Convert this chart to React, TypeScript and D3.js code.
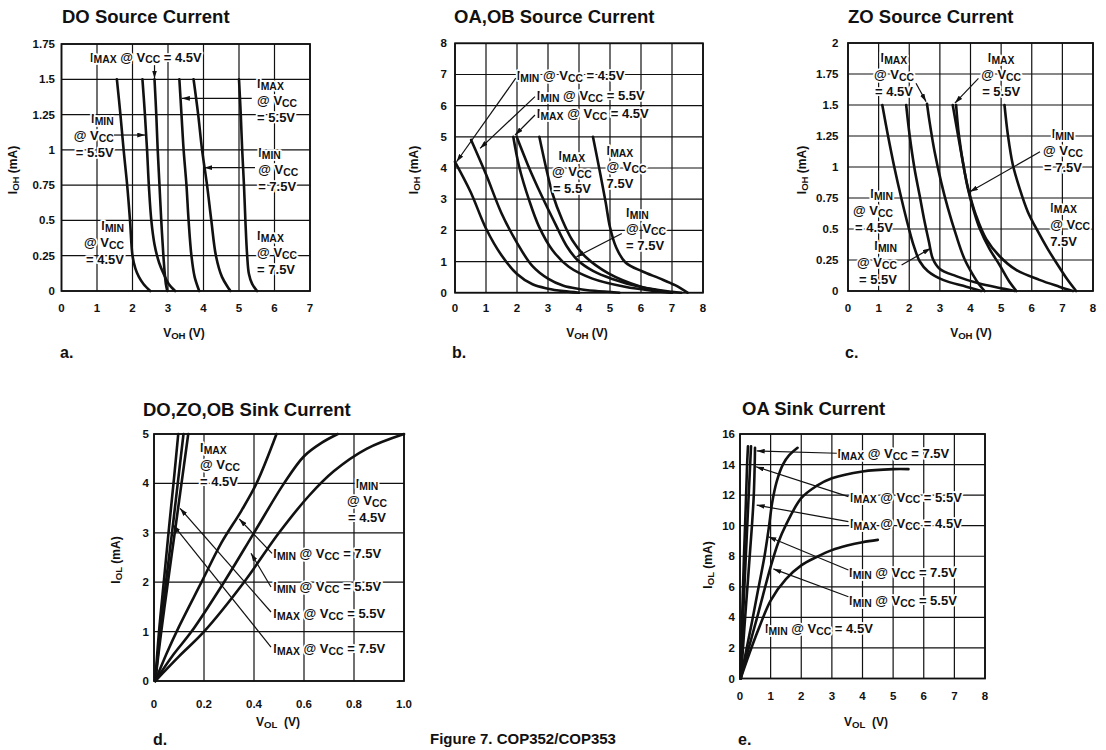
import React from "react";
import * as d3 from "d3";

type Pt = [number, number];

// ---------- a. DO Source Current ----------
const doVohTicks = [0, 1, 2, 3, 4, 5, 6, 7];
const doIohTicks = [0, 0.25, 0.5, 0.75, 1, 1.25, 1.5, 1.75];
const doIminVcc45: Pt[] = [[1.56, 1.5], [1.66, 1.25], [1.75, 1.0], [1.85, 0.75], [1.93, 0.5], [2.0, 0.25], [2.08, 0.16], [2.18, 0.1], [2.31, 0.05], [2.5, 0]];
const doIminVcc55: Pt[] = [[2.28, 1.5], [2.35, 1.25], [2.41, 1.0], [2.46, 0.75], [2.53, 0.5], [2.62, 0.33], [2.75, 0.2], [2.88, 0.12], [3.02, 0.05], [3.2, 0]];
const doImaxVcc45: Pt[] = [[2.62, 1.5], [2.67, 1.25], [2.71, 1.0], [2.76, 0.75], [2.81, 0.5], [2.87, 0.25], [2.91, 0.12], [2.94, 0.05], [2.98, 0]];
const doImaxVcc55: Pt[] = [[3.32, 1.5], [3.38, 1.25], [3.44, 1.0], [3.52, 0.75], [3.58, 0.5], [3.66, 0.25], [3.75, 0.1], [3.88, 0]];
const doIminVcc75: Pt[] = [[3.72, 1.5], [3.85, 1.25], [3.96, 1.0], [4.1, 0.75], [4.22, 0.5], [4.35, 0.25], [4.52, 0.1], [4.76, 0]];
const doImaxVcc75: Pt[] = [[5.0, 1.5], [5.05, 1.25], [5.09, 1.0], [5.14, 0.75], [5.18, 0.5], [5.23, 0.25], [5.28, 0.12], [5.37, 0.05], [5.51, 0]];

// ---------- b. OA,OB Source Current ----------
const oaVohTicks = [0, 1, 2, 3, 4, 5, 6, 7, 8];
const oaIohTicks = [0, 1, 2, 3, 4, 5, 6, 7, 8];
const oaIminVcc45: Pt[] = [[0, 4.2], [0.5, 3.24], [1.0, 2.06], [1.5, 1.2], [2.0, 0.6], [2.5, 0.27], [3.0, 0.13], [3.5, 0.05], [4.0, 0]];
const oaIminVcc55: Pt[] = [[0.52, 4.9], [1.0, 3.8], [1.5, 2.55], [2.0, 1.6], [2.5, 0.85], [3.0, 0.45], [3.5, 0.22], [4.0, 0.12], [4.5, 0.06], [5.3, 0]];
const oaImaxVcc45: Pt[] = [[1.88, 5.0], [2.07, 4.04], [2.39, 2.97], [2.71, 2.12], [3.14, 1.37], [3.67, 0.83], [4.41, 0.46], [5.48, 0.19], [6.5, 0.05], [7.0, 0]];
const oaIminVcc75: Pt[] = [[1.99, 5.0], [2.35, 4.1], [2.8, 3.1], [3.24, 2.2], [3.6, 1.5], [3.95, 1.05], [4.45, 0.7], [5.05, 0.45], [6.0, 0.18], [7.0, 0.03], [7.3, 0]];
const oaImaxVcc55: Pt[] = [[2.72, 5.0], [2.93, 4.04], [3.14, 3.19], [3.46, 2.33], [3.78, 1.69], [4.2, 1.16], [4.95, 0.62], [6.0, 0.19], [6.5, 0.08], [7.0, 0]];
const oaImaxVcc75: Pt[] = [[4.45, 5.0], [4.65, 4.0], [4.86, 2.9], [5.0, 2.1], [5.2, 1.45], [5.5, 0.97], [6.05, 0.68], [6.6, 0.46], [7.1, 0.24], [7.5, 0]];

// ---------- c. ZO Source Current ----------
const zoVohTicks = [0, 1, 2, 3, 4, 5, 6, 7, 8];
const zoIohTicks = [0, 0.25, 0.5, 0.75, 1, 1.25, 1.5, 1.75, 2];
const zoIminVcc45: Pt[] = [[1.12, 1.5], [1.3, 1.26], [1.52, 0.99], [1.74, 0.75], [1.96, 0.53], [2.14, 0.37], [2.34, 0.24], [2.61, 0.16], [3.1, 0.09], [3.86, 0.035], [4.35, 0]];
const zoIminVcc55: Pt[] = [[1.9, 1.5], [2.01, 1.26], [2.17, 0.99], [2.34, 0.77], [2.5, 0.56], [2.64, 0.4], [2.77, 0.26], [2.99, 0.18], [3.53, 0.12], [4.29, 0.06], [4.95, 0.025], [5.45, 0]];
const zoImaxVcc45: Pt[] = [[2.58, 1.51], [2.66, 1.37], [2.83, 1.12], [3.04, 0.88], [3.26, 0.67], [3.53, 0.45], [3.8, 0.26], [4.08, 0.13], [4.29, 0.05], [4.46, 0]];
const zoImaxVcc55: Pt[] = [[3.42, 1.5], [3.59, 1.26], [3.75, 1.04], [3.91, 0.83], [4.08, 0.67], [4.29, 0.51], [4.62, 0.34], [4.95, 0.21], [5.27, 0.075], [5.5, 0]];
const zoIminVcc75: Pt[] = [[3.53, 1.5], [3.62, 1.26], [3.8, 0.97], [3.95, 0.8], [4.18, 0.61], [4.51, 0.42], [4.95, 0.28], [5.49, 0.17], [6.25, 0.09], [6.9, 0.035], [7.34, 0]];
const zoImaxVcc75: Pt[] = [[5.11, 1.5], [5.22, 1.26], [5.38, 1.02], [5.6, 0.83], [5.87, 0.64], [6.2, 0.48], [6.52, 0.34], [6.85, 0.21], [7.17, 0.09], [7.45, 0]];

// ---------- d. DO,ZO,OB Sink Current ----------
const sinkVolTicks = [0, 0.2, 0.4, 0.6, 0.8, 1.0];
const sinkIolTicks = [0, 1, 2, 3, 4, 5];
const sinkImaxVcc75: Pt[] = [[0.005, 0], [0.02, 1.0], [0.04, 2.05], [0.06, 3.1], [0.08, 4.1], [0.097, 5]];
const sinkImaxVcc55: Pt[] = [[0.005, 0], [0.025, 1.0], [0.049, 2.05], [0.072, 3.0], [0.095, 4.0], [0.118, 5]];
const sinkImaxVcc45: Pt[] = [[0.005, 0], [0.029, 1.0], [0.057, 2.05], [0.083, 3.0], [0.11, 4.0], [0.137, 5]];
const sinkIminVcc75: Pt[] = [[0.005, 0], [0.05, 0.55], [0.1, 1.1], [0.19, 2.0], [0.27, 2.8], [0.35, 3.45], [0.41, 4.0], [0.49, 5.0]];
const sinkIminVcc55: Pt[] = [[0.005, 0], [0.08, 0.55], [0.15, 1.0], [0.28, 2.0], [0.4, 3.0], [0.52, 4.0], [0.6, 4.55], [0.67, 4.82], [0.735, 5.0]];
const sinkIminVcc45: Pt[] = [[0.005, 0], [0.1, 0.5], [0.2, 1.0], [0.36, 2.0], [0.5, 3.0], [0.62, 3.75], [0.72, 4.25], [0.85, 4.7], [1.0, 5.0]];

// ---------- e. OA Sink Current ----------
const oaSinkVolTicks = [0, 1, 2, 3, 4, 5, 6, 7, 8];
const oaSinkIolTicks = [0, 2, 4, 6, 8, 10, 12, 14, 16];
const oaSinkImaxVcc75: Pt[] = [[0.02, 0], [0.07, 4], [0.13, 8], [0.19, 11.4], [0.23, 13.9], [0.26, 15.2]];
const oaSinkImaxVcc55: Pt[] = [[0.02, 0], [0.1, 4], [0.19, 8], [0.26, 11], [0.32, 13.5], [0.36, 15.2]];
const oaSinkImaxVcc45: Pt[] = [[0.03, 0], [0.15, 3.5], [0.28, 7], [0.39, 10], [0.45, 12], [0.48, 14], [0.49, 15.1]];
const oaSinkIminVcc75: Pt[] = [[0.02, 0], [0.2, 1.8], [0.4, 3.8], [0.6, 5.9], [0.8, 8.0], [0.95, 10], [1.05, 11.5], [1.2, 12.9], [1.4, 14.0], [1.6, 14.6], [1.88, 15.1]];
const oaSinkIminVcc55: Pt[] = [[0.02, 0], [0.3, 2.1], [0.6, 4.3], [1.0, 7.3], [1.25, 8.9], [1.5, 10.05], [2.0, 11.8], [2.5, 12.6], [3.0, 13.1], [4.0, 13.55], [5.0, 13.7], [5.5, 13.7]];
const oaSinkIminVcc45: Pt[] = [[0.02, 0], [0.3, 1.6], [0.6, 3.2], [1.0, 5.1], [1.5, 6.5], [2.0, 7.4], [2.5, 7.95], [3.0, 8.4], [3.5, 8.7], [4.0, 8.92], [4.5, 9.07]];

// ---------- layout ----------
type Anchor = "start" | "middle" | "end";
interface Label { lines: string[]; at: Pt; anchor: Anchor; }
interface Leader { from: Pt; to: Pt; }
interface PanelDef {
  title: string; titleX: number; titleY: number;
  letter: string; letterX: number; letterY: number;
  left: number; right: number; top: number; bottom: number;
  xDomain: Pt; yDomain: Pt; xTicks: number[]; yTicks: number[];
  xFmt: (v: number) => string; yFmt: (v: number) => string;
  yTickGap: number; xTickBase: number;
  xTitle: string; xTitleX: number; xTitleY: number;
  yTitle: string; yTitleX: number; yTitleY: number;
  curves: Pt[][]; labels: Label[]; leaders: Leader[]; lineGap: number;
}

const plain = (v: number) => String(v);
const oneDec = (v: number) => (v === 0 ? "0" : d3.format(".1f")(v));

const panels: PanelDef[] = [
  {
    title: "DO Source Current", titleX: 62, titleY: 23, letter: "a.", letterX: 60, letterY: 358,
    left: 61.5, right: 310, top: 44, bottom: 291,
    xDomain: [0, 7], yDomain: [0, 1.75], xTicks: doVohTicks, yTicks: doIohTicks, xFmt: plain, yFmt: plain,
    yTickGap: 6.5, xTickBase: 312,
    xTitle: "V_{OH} (V)", xTitleX: 184, xTitleY: 337, yTitle: "I_{OH} (mA)", yTitleX: 17, yTitleY: 170,
    curves: [doIminVcc45, doIminVcc55, doImaxVcc45, doImaxVcc55, doIminVcc75, doImaxVcc75],
    lineGap: 17,
    labels: [
      { lines: ["I_{MAX} @ V_{CC} = 4.5V"], at: [0.8, 1.625], anchor: "start" },
      { lines: ["I_{MAX}", "@ V_{CC}", "= 5.5V"], at: [5.51, 1.438], anchor: "start" },
      { lines: ["I_{MIN}", "@ V_{CC}", "= 5.5V"], at: [1.47, 1.19], anchor: "end" },
      { lines: ["I_{MIN}", "@ V_{CC}", "= 7.5V"], at: [5.54, 0.949], anchor: "start" },
      { lines: ["I_{MIN}", "@ V_{CC}", "= 4.5V"], at: [1.76, 0.432], anchor: "end" },
      { lines: ["I_{MAX}", "@ V_{CC}", "= 7.5V"], at: [5.51, 0.361], anchor: "start" },
    ],
    leaders: [
      { from: [2.62, 1.6], to: [2.62, 1.505] },
      { from: [5.36, 1.365], to: [3.39, 1.365] },
      { from: [1.48, 1.105], to: [2.36, 1.105] },
      { from: [5.45, 0.874], to: [4.02, 0.874] },
    ],
  },
  {
    title: "OA,OB Source Current", titleX: 454, titleY: 23, letter: "b.", letterX: 452, letterY: 358,
    left: 455, right: 703, top: 43.3, bottom: 292.7,
    xDomain: [0, 8], yDomain: [0, 8], xTicks: oaVohTicks, yTicks: oaIohTicks, xFmt: plain, yFmt: plain,
    yTickGap: 8, xTickBase: 312,
    xTitle: "V_{OH} (V)", xTitleX: 587, xTitleY: 337, yTitle: "I_{OH} (mA)", yTitleX: 418, yTitleY: 170,
    curves: [oaIminVcc45, oaIminVcc55, oaImaxVcc45, oaIminVcc75, oaImaxVcc55, oaImaxVcc75],
    lineGap: 16.5,
    labels: [
      { lines: ["I_{MIN} @ V_{CC} = 4.5V"], at: [1.99, 6.82], anchor: "start" },
      { lines: ["I_{MIN} @ V_{CC} = 5.5V"], at: [2.64, 6.18], anchor: "start" },
      { lines: ["I_{MAX} @ V_{CC} = 4.5V"], at: [2.64, 5.59], anchor: "start" },
      { lines: ["I_{MAX}", "@ V_{CC}", "= 5.5V"], at: [3.77, 4.26], anchor: "middle" },
      { lines: ["I_{MAX}", "@ V_{CC}", "7.5V"], at: [4.89, 4.42], anchor: "start" },
      { lines: ["I_{MIN}", "@ V_{CC}", "= 7.5V"], at: [5.52, 2.43], anchor: "start" },
    ],
    leaders: [
      { from: [1.96, 6.88], to: [0.05, 4.2] },
      { from: [2.58, 6.29], to: [0.81, 4.63] },
      { from: [2.58, 5.7], to: [1.94, 5.06] },
      { from: [5.38, 1.9], to: [3.92, 1.15] },
    ],
  },
  {
    title: "ZO Source Current", titleX: 848, titleY: 23, letter: "c.", letterX: 845, letterY: 358,
    left: 848, right: 1093, top: 43, bottom: 291,
    xDomain: [0, 8], yDomain: [0, 2], xTicks: zoVohTicks, yTicks: zoIohTicks, xFmt: plain, yFmt: plain,
    yTickGap: 9.5, xTickBase: 312,
    xTitle: "V_{OH} (V)", xTitleX: 971, xTitleY: 337, yTitle: "I_{OH} (mA)", yTitleX: 806, yTitleY: 170,
    curves: [zoIminVcc45, zoIminVcc55, zoImaxVcc45, zoImaxVcc55, zoIminVcc75, zoImaxVcc75],
    lineGap: 17,
    labels: [
      { lines: ["I_{MAX}", "@ V_{CC}", "= 4.5V"], at: [1.5, 1.849], anchor: "middle" },
      { lines: ["I_{MAX}", "@ V_{CC}", "= 5.5V"], at: [5.0, 1.849], anchor: "middle" },
      { lines: ["I_{MIN}", "@ V_{CC}", "= 7.5V"], at: [7.02, 1.234], anchor: "middle" },
      { lines: ["I_{MIN}", "@ V_{CC}", "= 4.5V"], at: [1.47, 0.75], anchor: "end" },
      { lines: ["I_{MIN}", "@ V_{CC}", "= 5.5V"], at: [1.6, 0.33], anchor: "end" },
      { lines: ["I_{MAX}", "@ V_{CC}", "7.5V"], at: [6.6, 0.64], anchor: "start" },
    ],
    leaders: [
      { from: [2.22, 1.675], to: [2.55, 1.527] },
      { from: [4.26, 1.715], to: [3.49, 1.515] },
      { from: [6.27, 1.123], to: [3.98, 0.8] },
      { from: [1.75, 0.21], to: [2.7, 0.344] },
    ],
  },
  {
    title: "DO,ZO,OB Sink Current", titleX: 143, titleY: 416, letter: "d.", letterX: 153, letterY: 745,
    left: 154, right: 404, top: 434, bottom: 681,
    xDomain: [0, 1], yDomain: [0, 5], xTicks: sinkVolTicks, yTicks: sinkIolTicks, xFmt: oneDec, yFmt: plain,
    yTickGap: 5, xTickBase: 708,
    xTitle: "V_{OL}  (V)", xTitleX: 278, xTitleY: 726, yTitle: "I_{OL} (mA)", yTitleX: 120, yTitleY: 560,
    curves: [sinkImaxVcc75, sinkImaxVcc55, sinkImaxVcc45, sinkIminVcc75, sinkIminVcc55, sinkIminVcc45],
    lineGap: 17,
    labels: [
      { lines: ["I_{MAX}", "@ V_{CC}", "= 4.5V"], at: [0.184, 4.64], anchor: "start" },
      { lines: ["I_{MIN}", "@ V_{CC}", "= 4.5V"], at: [0.852, 3.907], anchor: "middle" },
      { lines: ["I_{MIN} @ V_{CC} = 7.5V"], at: [0.477, 2.49], anchor: "start" },
      { lines: ["I_{MIN} @ V_{CC} = 5.5V"], at: [0.477, 1.82], anchor: "start" },
      { lines: ["I_{MAX} @ V_{CC} = 5.5V"], at: [0.477, 1.275], anchor: "start" },
      { lines: ["I_{MAX} @ V_{CC} = 7.5V"], at: [0.477, 0.567], anchor: "start" },
    ],
    leaders: [
      { from: [0.472, 2.585], to: [0.341, 3.279] },
      { from: [0.468, 1.903], to: [0.388, 2.585] },
      { from: [0.468, 1.397], to: [0.104, 3.496] },
      { from: [0.468, 0.688], to: [0.077, 3.158] },
    ],
  },
  {
    title: "OA Sink Current", titleX: 742, titleY: 415, letter: "e.", letterX: 738, letterY: 745,
    left: 740, right: 985, top: 434, bottom: 678.5,
    xDomain: [0, 8], yDomain: [0, 16], xTicks: oaSinkVolTicks, yTicks: oaSinkIolTicks, xFmt: plain, yFmt: plain,
    yTickGap: 5, xTickBase: 700,
    xTitle: "V_{OL}  (V)", xTitleX: 866, xTitleY: 726, yTitle: "I_{OL} (mA)", yTitleX: 712, yTitleY: 565,
    curves: [oaSinkImaxVcc75, oaSinkImaxVcc55, oaSinkImaxVcc45, oaSinkIminVcc75, oaSinkIminVcc55, oaSinkIminVcc45],
    lineGap: 17,
    labels: [
      { lines: ["I_{MAX} @ V_{CC} = 7.5V"], at: [3.18, 14.41], anchor: "start" },
      { lines: ["I_{MAX} @ V_{CC} = 5.5V"], at: [3.59, 11.57], anchor: "start" },
      { lines: ["I_{MAX} @ V_{CC} = 4.5V"], at: [3.59, 9.83], anchor: "start" },
      { lines: ["I_{MIN} @ V_{CC} = 7.5V"], at: [3.56, 6.66], anchor: "start" },
      { lines: ["I_{MIN} @ V_{CC} = 5.5V"], at: [3.56, 4.81], anchor: "start" },
      { lines: ["I_{MIN} @ V_{CC} = 4.5V"], at: [0.816, 2.96], anchor: "start" },
    ],
    leaders: [
      { from: [3.16, 14.74], to: [0.545, 14.89] },
      { from: [3.54, 11.9], to: [0.52, 13.86] },
      { from: [3.54, 10.26], to: [0.545, 11.35] },
      { from: [3.54, 7.1], to: [0.925, 9.28] },
      { from: [3.54, 5.35], to: [1.09, 7.17] },
    ],
  },
];

const FONT = "'Liberation Sans', Arial, Helvetica, sans-serif";
const INK = "#111";

function Rich({ text, size, subScale = 0.8, subDy = 1.8 }: { text: string; size: number; subScale?: number; subDy?: number }) {
  const parts = text.split(/_\{([^}]*)\}/);
  const out: React.ReactNode[] = [];
  let lowered = false;
  parts.forEach((p, i) => {
    if (!p) return;
    if (i % 2 === 1) {
      out.push(
        <tspan key={i} fontSize={size * subScale} dy={lowered ? 0 : subDy}>{p}</tspan>
      );
      lowered = true;
    } else {
      out.push(
        <tspan key={i} fontSize={size} dy={lowered ? -subDy : 0}>{p}</tspan>
      );
      lowered = false;
    }
  });
  return <>{out}</>;
}

function Panel({ p }: { p: PanelDef }) {
  const x = d3.scaleLinear().domain(p.xDomain).range([p.left, p.right]);
  const y = d3.scaleLinear().domain(p.yDomain).range([p.bottom, p.top]);
  const line = d3
    .line<Pt>()
    .x((d) => x(d[0]))
    .y((d) => y(d[1]))
    .curve(d3.curveCatmullRom.alpha(0.5));
  return (
    <g>
      {p.xTicks.map((t) => (
        <line key={"gx" + t} x1={x(t)} x2={x(t)} y1={p.top} y2={p.bottom} stroke={INK} strokeWidth={1.2} />
      ))}
      {p.yTicks.map((t) => (
        <line key={"gy" + t} x1={p.left} x2={p.right} y1={y(t)} y2={y(t)} stroke={INK} strokeWidth={1.2} />
      ))}
      <rect x={p.left} y={p.top} width={p.right - p.left} height={p.bottom - p.top} fill="none" stroke={INK} strokeWidth={1.8} />
      {p.curves.map((c, i) => (
        <path key={"c" + i} d={line(c) || ""} fill="none" stroke={INK} strokeWidth={2.6} strokeLinejoin="round" strokeLinecap="round" />
      ))}
      {p.labels.map((l, i) => (
        <text
          key={"l" + i}
          x={x(l.at[0])}
          y={y(l.at[1])}
          textAnchor={l.anchor}
          fontFamily={FONT}
          fontWeight="bold"
          fill={INK}
          stroke="#fff"
          strokeWidth={3.5}
          strokeLinejoin="round"
          paintOrder="stroke"
          style={{ whiteSpace: "pre" }}
        >
          {l.lines.map((ln, j) => (
            <tspan key={j} x={x(l.at[0])} y={y(l.at[1]) + j * p.lineGap}>
              <Rich text={ln} size={13} />
            </tspan>
          ))}
        </text>
      ))}
      {p.leaders.map((ld, i) => (
        <line
          key={"ld" + i}
          x1={x(ld.from[0])}
          y1={y(ld.from[1])}
          x2={x(ld.to[0])}
          y2={y(ld.to[1])}
          stroke={INK}
          strokeWidth={1.2}
          markerEnd="url(#arrowHead)"
        />
      ))}
      {p.xTicks.map((t) => (
        <text key={"tx" + t} x={x(t)} y={p.xTickBase} textAnchor="middle" fontFamily={FONT} fontWeight="bold" fontSize={11.5} fill={INK}>
          {p.xFmt(t)}
        </text>
      ))}
      {p.yTicks.map((t) => (
        <text key={"ty" + t} x={p.left - p.yTickGap} y={y(t) + 4} textAnchor="end" fontFamily={FONT} fontWeight="bold" fontSize={11.5} fill={INK}>
          {p.yFmt(t)}
        </text>
      ))}
      <text x={p.xTitleX} y={p.xTitleY} textAnchor="middle" fontFamily={FONT} fontWeight="bold" fill={INK} style={{ whiteSpace: "pre" }}>
        <Rich text={p.xTitle} size={12} subScale={0.8} subDy={1.5} />
      </text>
      <text
        transform={`translate(${p.yTitleX},${p.yTitleY}) rotate(-90)`}
        textAnchor="middle"
        fontFamily={FONT}
        fontWeight="bold"
        fill={INK}
        style={{ whiteSpace: "pre" }}
      >
        <Rich text={p.yTitle} size={12} subScale={0.8} subDy={1.5} />
      </text>
      <text x={p.titleX} y={p.titleY} fontFamily={FONT} fontWeight="bold" fontSize={18.5} fill={INK}>
        {p.title}
      </text>
      <text x={p.letterX} y={p.letterY} fontFamily={FONT} fontWeight="bold" fontSize={16} fill={INK}>
        {p.letter}
      </text>
    </g>
  );
}

export default function App() {
  return (
    <svg width={1106} height={750} viewBox="0 0 1106 750" style={{ display: "block", position: "absolute", left: 0, top: 0, background: "#fff" }}>
      <defs>
        <marker id="arrowHead" viewBox="0 0 10 6" refX={10} refY={3} markerWidth={8} markerHeight={5} markerUnits="userSpaceOnUse" orient="auto">
          <path d="M0,0 L10,3 L0,6 z" fill={INK} />
        </marker>
      </defs>
      <rect width={1106} height={750} fill="#fff" />
      {panels.map((p) => (
        <Panel key={p.title} p={p} />
      ))}
      <text x={430} y={744} fontFamily={FONT} fontWeight="bold" fontSize={15} fill={INK}>
        Figure 7. COP352/COP353
      </text>
    </svg>
  );
}
